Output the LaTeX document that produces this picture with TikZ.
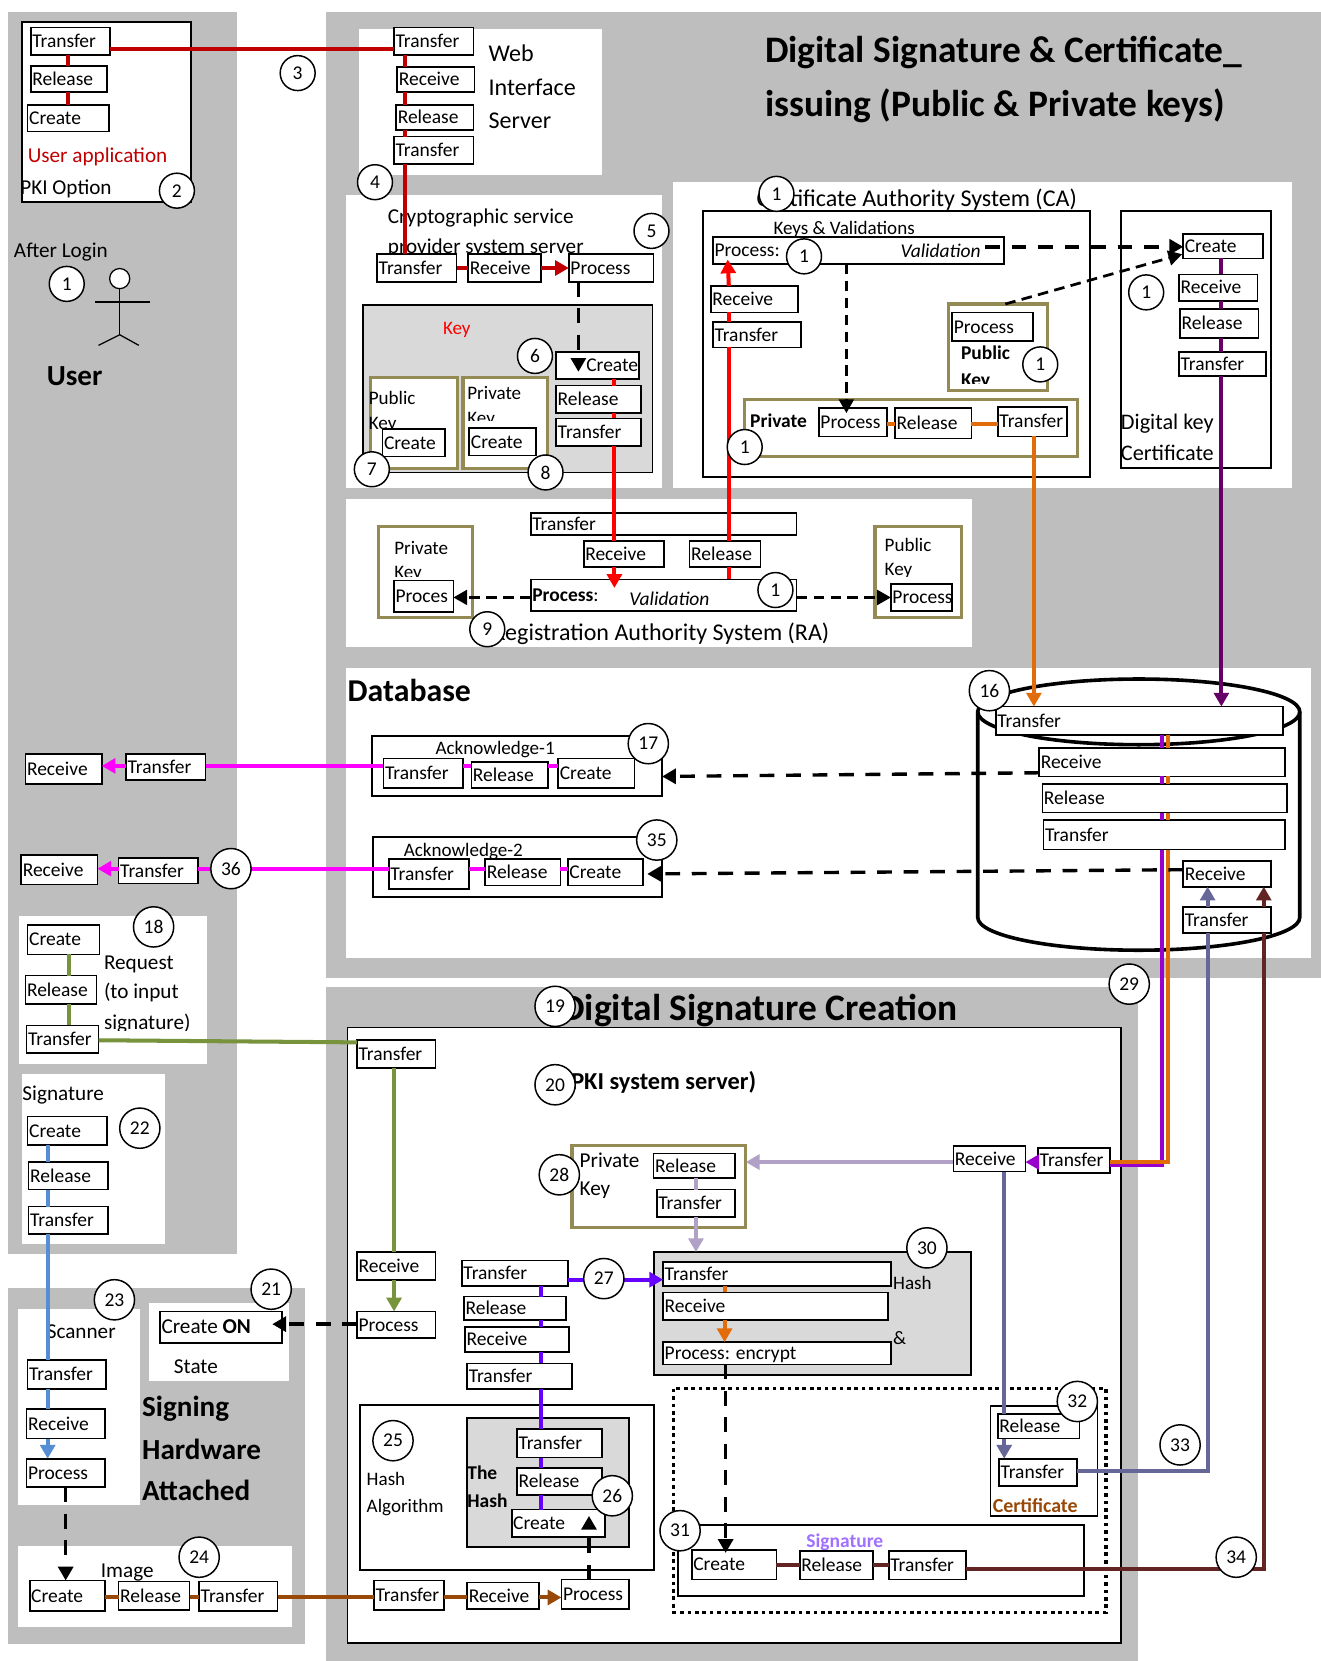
\documentclass[tikz,border=0pt]{standalone}
\usepackage{fontspec}
\setmainfont{Carlito}
\usetikzlibrary{arrows.meta}
\definecolor{panelgray}{HTML}{BEBEBE}
\definecolor{keygray}{HTML}{D9D9D9}
\definecolor{olive}{HTML}{948A54}
\definecolor{darkred}{HTML}{C00000}
\definecolor{orangeline}{HTML}{E36C0A}
\definecolor{plumline}{HTML}{660066}
\definecolor{violetline}{HTML}{9900CC}
\definecolor{lilacline}{HTML}{B2A1C7}
\definecolor{slateline}{HTML}{666699}
\definecolor{wineline}{HTML}{632523}
\definecolor{greenline}{HTML}{77933C}
\definecolor{blueline}{HTML}{558ED5}
\definecolor{brownline}{HTML}{984807}
\definecolor{indigoline}{HTML}{6600FF}
\definecolor{pinkline}{HTML}{FF00FF}
\definecolor{redline}{HTML}{FF0000}
\definecolor{sigpurple}{HTML}{A070FF}

\begin{document}
\begin{tikzpicture}[
    x=1pt, y=-1pt,
    procbox/.style={rectangle, draw, fill=white, line width=1.6pt, inner sep=0pt, outer sep=0pt, anchor=north west, font=\fontsize{18.4}{20}\selectfont},
    blackbox/.style={rectangle, draw, line width=1.8pt, inner sep=0pt, outer sep=0pt, anchor=north west},
    olivebox/.style={rectangle, draw=olive, fill=white, line width=3pt, inner sep=0pt, outer sep=0pt, anchor=north west},
    lab/.style={inner sep=0pt, anchor=west, font=\fontsize{18}{20}\selectfont},
    boldlab/.style={lab, font=\fontsize{18.4}{20}\selectfont\bfseries},
    lablg/.style={inner sep=0pt, anchor=west, font=\fontsize{20}{22}\selectfont},
    biglab/.style={inner sep=0pt, anchor=west, font=\fontsize{21}{24}\selectfont},
    hugelab/.style={inner sep=0pt, anchor=west, font=\fontsize{22.7}{26}\selectfont},
    headlab/.style={inner sep=0pt, anchor=west, font=\fontsize{27.5}{30}\selectfont\bfseries},
    titlelab/.style={inner sep=0pt, anchor=west, font=\fontsize{35.3}{40}\selectfont\bfseries},
    numnode/.style={circle, draw, fill=white, line width=1.4pt, inner sep=0pt, minimum size=33pt, font=\fontsize{18.4}{20}\selectfont},
    numwide/.style={numnode, minimum size=38pt},
    conn/.style={line width=3.8pt},
    tip/.style={-{Triangle[length=13pt,width=14pt]}},
    dashline/.style={line width=3.2pt, dash pattern=on 14pt off 11pt, black},
    dashthin/.style={line width=2.6pt, dash pattern=on 10pt off 6pt, black},
    dashA/.style={dashline, tip},
    redD/.style={conn, darkred},
    redDA/.style={redD, tip},
    redB/.style={conn, redline},
    orangeL/.style={conn, orangeline},
    orangeA/.style={orangeL, tip},
    plumL/.style={conn, plumline},
    plumA/.style={plumL, tip},
    violetL/.style={conn, violetline},
    violetA/.style={violetL, tip},
    lilacL/.style={conn, lilacline},
    lilacA/.style={lilacL, tip},
    slateL/.style={conn, slateline},
    slateA/.style={slateL, tip},
    wineL/.style={conn, wineline},
    wineA/.style={wineL, tip},
    greenL/.style={conn, greenline},
    greenA/.style={greenL, tip},
    blueL/.style={conn, blueline},
    blueA/.style={blueL, tip},
    brownL/.style={conn, brownline},
    brownA/.style={brownL, tip},
    indigoL/.style={conn, indigoline},
    indigoA/.style={indigoL, tip},
    magentaL/.style={conn, pinkline},
    magentaA/.style={magentaL, tip}
]
    \useasboundingbox (0,0) rectangle (1247,1568);

    % Gray areas
    \fill[panelgray] (8,11) rectangle (224,1184);
    \fill[panelgray] (308,11) rectangle (1247,923);
    \fill[panelgray] (308,932) rectangle (1074,1568);
    \fill[panelgray] (8,1216) rectangle (288,1552);

    % White areas
    \foreach \xa/\ya/\xb/\yb in {339/27/568/165, 327/184/625/461, 635/172/1220/461, 327/471/918/611, 327/631/1238/904, 18/865/195/1004, 21/1014/156/1174, 17/1236/132/1421, 141/1230/273/1304, 17/1459/276/1536} {
        \fill[white] (\xa,\ya) rectangle (\xb,\yb);
    }

    % Frames
    \foreach \nm/\x/\y/\wid/\hgt/\col in {
        boxUser/21/21/159/170/white, boxKey/343/288/273/158/keygray, boxCa/664/199/365/251/white,
        boxDigital/1058/199/142/243/white, boxAckA/351/695/274/56/white, boxAckB/352/790/273/57/white,
        boxServer/328/970/730/581/white, boxEnc/617/1182/300/116/keygray, boxAlgo/340/1326/277/156/white,
        boxHash/441/1339/153/121/keygray, boxCert/935/1327/101/104/white, boxSign/640/1440/383/67/white} {
        \node[blackbox, fill=\col, minimum width=\wid pt, minimum height=\hgt pt] (\nm) at (\x,\y) {};
    }
    \draw[line width=3.2pt, dash pattern=on 3.5pt off 3.5pt] (636,1311) rectangle (1044,1522);

    % Key frames
    \foreach \nm/\x/\y/\wid/\hgt in {
        olvPub/350/356/82/86, olvPrv/437/356/80/86, olvCaPub/895/287/94/82, olvCaPrv/703/377/314/54,
        olvRaPrv/357/497/89/86, olvRaPub/826/497/82/86, olvSign/540/1081/164/78} {
        \node[olivebox, minimum width=\wid pt, minimum height=\hgt pt] (\nm) at (\x,\y) {};
    }

    % Database
    \draw[line width=3.4pt] (1075,672) ellipse [x radius=152pt, y radius=31pt];
    \draw[line width=3.4pt] (923,672) -- (923,866) arc [start angle=180, end angle=360, x radius=152pt, y radius=31pt] -- (1227,672);

    % User
    \node[circle, draw, fill=white, line width=1.2pt, inner sep=0pt, minimum size=19pt] (head) at (113,263) {};
    \coordinate (hip) at (113,316);
    \coordinate (armL) at (90,285);
    \coordinate (armR) at (142,285);
    \coordinate (footL) at (93,326);
    \coordinate (footR) at (131,326);
    \draw[line width=1.2pt] (head) -- (hip);
    \draw[line width=1.2pt] (armL) -- (armR);
    \draw[line width=1.2pt] (footL) -- (hip) -- (footR);

    % Texts
    \foreach \nm/\x/\y/\lbl in {
        tPub/348/376/Public, tPrv/441/371/Private,
        tKeysVal/730/217/{Keys \& Validations}, tRaPrv/372/517/Private, tRaPub/835/514/Public,
        tAckA/411/708/Acknowledge-1, tAckB/381/804/Acknowledge-2, tHashA/843/1211/Hash, tAmp/843/1263/\&,
        tAlgA/346/1396/Hash, tAlgB/346/1423/Algorithm} {
        \node[lab] (\nm) at (\x,\y) {\lbl};
    }
    \foreach \nm/\x/\y/\lbl in {
        tLogin/13/238/After Login, tPki/19/178/PKI Option, tCrypto/366/206/Cryptographic service,
        tProv/366/234/provider system server, tReq/98/910/Request, tInp/98/937/(to input,
        tSign/21/1034/Signature, tScan/44/1257/Scanner, tState/164/1290/State, tImg/95/1484/Image} {
        \node[lablg] (\nm) at (\x,\y) {\lbl};
    }
    \foreach \nm/\x/\y/\lbl in {tDigA/1058/400/Digital key, tDigB/1058/428/Certificate} {
        \node[biglab] (\nm) at (\x,\y) {\lbl};
    }
    \node[lablg] (tPkiKey) at (547,1095) {Private};
    \foreach \nm/\y/\lbl in {tWeb/50/Web, tIface/82/Interface, tSrv/114/Server} {
        \node[hugelab] (\nm) at (461,\y) {\lbl};
    }
    \node[hugelab] (tCa) at (714,188) {Certificate Authority System (CA)};
    \node[hugelab, anchor=east] (tRa) at (783,598) {Registration Authority System (RA)};
    \node[hugelab, anchor=east, font=\fontsize{23}{26}\selectfont\bfseries] (tPkiSys) at (714,1022) {(PKI system server)};
    \node[lablg, text=darkred] (tApp) at (26,148) {User application};
    \node[lab, text=redline] (tKeyRed) at (418,311) {Key};
    \node[boldlab] (tCaPrv) at (708,397) {Private};
    \node[boldlab] (tCaPrvK) at (692,424) {Key};
    \node[boldlab] (tCaPub) at (907,333) {Public};
    \node[boldlab] (tThe) at (441,1390) {The};
    \node[boldlab] (tTheH) at (441,1417) {Hash};
    \node[boldlab, text=brownline, font=\fontsize{18.8}{20}\selectfont\bfseries] (tCert) at (937,1421) {Certificate};
    \node[boldlab, text=sigpurple] (tSigP) at (761,1456) {Signature};
    \node[headlab] (tUser) at (44,355) {User};
    \foreach \nm/\y/\lbl in {tHwA/1330/Signing, tHwB/1368/Hardware, tHwC/1407/Attached} {
        \node[headlab] (\nm) at (134,\y) {\lbl};
    }
    \node[headlab, font=\fontsize{30}{32}\selectfont\bfseries] (tDb) at (328,652) {Database};
    \node[titlelab] (tTitleA) at (722,50) {Digital Signature \& Certificate\_};
    \node[titlelab] (tTitleB) at (722,100) {issuing (Public \& Private keys)};
    \node[titlelab, anchor=east] (tDsc) at (904,954) {Digital Signature Creation};

    % Texts cut off at the bottom
    \foreach \nm/\x/\y/\yc/\stl/\lbl in {tPubK/348/401/405/lab/Key, tPrvK/441/396/397/lab/Key, tRaPrvK/372/542/544/lab/Key,
        tRaPubK/835/539/544/lab/Key, tSig/98/966/973/lablg/signature), tCaPubK/907/360/362/boldlab/Key, tPkiKeyB/547/1124/1130/lablg/Key} {
        \begin{scope}
            \clip (\x-5,\yc-30) rectangle (\x+90,\yc);
            \node[\stl] (\nm) at (\x,\y) {\lbl};
        \end{scope}
    }

    % Boxes
    \foreach \nm/\x/\y/\wid/\hgt/\lbl in {
        uaT/29/26/75/26/Transfer, uaR/29/62/72/25/Release, uaC/26/99/77/25/Create,
        webT/372/26/75/26/Transfer, webR/375/63/73/24/Receive, webL/374/99/73/24/Release, webX/372/129/75/26/Transfer,
        cspT/356/240/75/26/Transfer, cspR/442/240/69/26/Receive, cspP/537/240/80/26/Process,
        keyC/525/332/78/26/\hspace{27pt}Create, keyR/525/364/80/26/Release, keyT/525/395/80/26/Transfer,
        pubC/361/405/59/26/Create, prvC/443/404/63/26/Create,
        caP/673/224/275/25/Process:, caR/671/270/82/25/Receive, caT/673/304/83/24/Transfer,
        dkC/1117/221/75/23/Create, dkR/1113/259/74/25/Receive, dkL/1114/292/74/27/Release, dkT/1113/332/82/23/Transfer,
        cpuP/899/295/76/27/Process, cprP/773/385/64/27/Process, cprL/845/385/72/29/Release, cprT/942/384/65/28/Transfer,
        raT/501/484/251/21/Transfer, raR/551/511/76/24/Receive, raL/651/511/67/24/Release, raP/501/547/251/30/{\textbf{Process}:},
        rprP/372/548/56/30/Proces, rpuP/841/551/58/26/Process,
        dbA/940/667/271/27/Transfer, dbB/981/706/232/27/Receive, dbC/984/740/231/27/Release, dbD/985/774/228/28/Transfer,
        dbE/1117/813/83/24/Receive, dbF/1117/856/83/25/Transfer,
        ackAt/362/716/75/28/Transfer, ackAr/445/719/72/25/Release, ackAc/527/716/72/28/Create,
        rxA/24/712/72/28/Receive, txA/119/712/75/24/Transfer,
        ackBt/367/811/76/28/Transfer, ackBr/458/811/71/25/Release, ackBc/536/811/71/25/Create,
        rxB/20/807/72/28/Receive, txB/112/810/75/24/Transfer,
        reqC/26/873/68/28/Create, reqR/24/921/67/27/Release, reqT/25/968/68/26/Transfer,
        signC/26/1054/75/27/Create, signR/27/1097/75/26/Release, signT/27/1139/75/26/Transfer,
        scanT/26/1284/74/27/Transfer, scanR/25/1330/74/28/Receive, scanP/25/1377/74/27/Process,
        onC/151/1238/115/30/{\fontsize{20}{22}\selectfont Create \textbf{ON}},
        imgC/28/1492/71/29/Create, imgR/112/1493/67/27/Release, imgT/188/1493/74/28/Transfer,
        svT/337/982/74/26/Transfer, svR/337/1182/74/26/Receive, svP/337/1238/74/25/Process,
        hsT/436/1190/100/24/Transfer, hsR/438/1224/96/22/Release, hsC/439/1253/98/23/Receive, hsX/441/1287/99/24/Transfer,
        thT/488/1349/80/27/Transfer, thR/488/1386/80/25/Release, thC/483/1425/88/26/Create,
        shT/353/1492/66/28/Transfer, shR/441/1494/68/25/Receive, shP/530/1491/64/28/Process,
        pkR/617/1089/77/23/Release, pkT/620/1123/74/26/Transfer, dgR/900/1082/68/24/Receive, dgT/980/1084/68/23/Transfer,
        enT/626/1191/215/23/Transfer, enR/626/1220/212/26/Receive, enP/626/1267/215/21/Process: encrypt,
        ceR/942/1335/77/23/Release, ceT/943/1377/74/26/Transfer,
        sgC/653/1463/80/28/Create, sgR/755/1464/69/27/Release, sgT/839/1464/73/27/Transfer} {
        \node[procbox, minimum width=\wid pt, minimum height=\hgt pt] (\nm) at (\x,\y) {\makebox[\wid pt][l]{\hspace{1.5pt}\lbl\rule[-3pt]{0pt}{18pt}}};
    }
    \node[boldlab, font=\fontsize{18.4}{20}\selectfont\itshape] (valCa) at (850,237) {Validation};
    \node[boldlab, font=\fontsize{18.4}{20}\selectfont\itshape] (valRa) at (594,565) {Validation};

    % Columns and rows of the connectors
    \foreach \nm/\x in {xUa/64, xWeb/382, xKey/580, xRaL/688, xCsp/546, xCaV/799, xPlum/1153, xOrg/976, xVio/1097, xOrb/1103,
        xSlate/1140, xWine/1193, xReq/65, xSrv/372, xSign/45, xScan/62, xPk/657, xDg/948, xHs/511, xEnc/684, xEncD/685, xEnd/556} {
        \coordinate (\nm) at (\x,0);
    }
    \foreach \nm/\y in {yUa/46, yCsp/253, yCpr/400, yAckA/723, yAckB/820, yVio/1100, yOrg/1097, yCe/1389, yWine/1481, yImg/1508,
        yHs/1208, ySg/1477, yDk/233, yRa/564, yOn/1250, yGrA/982, yGrB/984} {
        \coordinate (\nm) at (0,\y);
    }
    \coordinate (tipKey) at (546,351);
    \coordinate (tipRa) at (580,555);
    \coordinate (tipCa) at (687,245);
    \coordinate (tipCv) at (799,390);
    \coordinate (tipDk) at (1116,240);
    \coordinate (tipEnd) at (556,1431);
    \coordinate (tipEnc) at (685,1466);
    \coordinate (tipOn) at (257,1250);
    \coordinate (tipAck) at (611,825);
    \coordinate (startCa) at (930,233);

    % Vertical connectors, going down
    \foreach \a/\b/\col/\stl in {
        uaT/uaR/xUa/redD, uaR/uaC/xUa/redD, webT/webR/xWeb/redD, webR/webL/xWeb/redD, webL/webX/xWeb/redD, webX/cspT/xWeb/redD,
        keyC/keyR/xKey/redB, keyR/keyT/xKey/redB, keyT/raR/xKey/redB,
        dkC/dkR/xPlum/plumL, dkR/dkL/xPlum/plumL, dkL/dkT/xPlum/plumL, dkT/dbA/xPlum/plumA,
        cprT/dbA/xOrg/orangeA,
        dbA/dbB/xVio/violetL, dbB/dbC/xVio/violetL, dbC/dbD/xVio/violetL,
        dbA/dbB/xOrb/orangeL, dbB/dbC/xOrb/orangeL, dbC/dbD/xOrb/orangeL,
        reqC/reqR/xReq/greenL, reqR/reqT/xReq/greenL, svT/svR/xSrv/greenL, svR/svP/xSrv/greenA,
        signC/signR/xSign/blueL, signR/signT/xSign/blueL, signT/scanT/xSign/blueL, scanT/scanR/xSign/blueL, scanR/scanP/xSign/blueA,
        scanP/imgC/xScan/dashA,
        pkR/pkT/xPk/lilacL, pkT/boxEnc/xPk/lilacA,
        dgR/ceR/xDg/slateL, ceR/ceT/xDg/slateA,
        hsT/hsR/xHs/indigoL, hsR/hsC/xHs/indigoL, hsC/hsX/xHs/indigoL, hsX/thT/xHs/indigoL, thT/thR/xHs/indigoL, thR/thC/xHs/indigoL,
        enT/enR/xEnc/orangeL, enR/enP/xEnc/orangeA} {
        \draw[\stl] (\a.south -| \col) -- (\b.north -| \col);
    }

    % Vertical connectors, going up
    \foreach \a/\b/\col/\stl in {
        raP/raL/xRaL/redB, raL/caT/xRaL/redB, caT/caR/xRaL/redB,
        dbF/dbE/xSlate/slateA, dbF/dbE/xWine/wineA} {
        \draw[\stl] (\a.north -| \col) -- (\b.south -| \col);
    }

    % Horizontal connectors, going right
    \foreach \a/\b/\row/\stl in {
        uaT/webT/yUa/redD, cspT/cspR/yCsp/redD, cspR/cspP/yCsp/redDA,
        cprP/cprL/yCpr/orangeL, cprL/cprT/yCpr/orangeL,
        hsT/enT/yHs/indigoA, imgC/imgR/yImg/brownL, imgR/imgT/yImg/brownL, imgT/shT/yImg/brownL, shT/shR/yImg/brownL,
        shR/shP/yImg/brownA, sgC/sgR/ySg/wineL, sgR/sgT/ySg/wineL} {
        \draw[\stl] (\a.east |- \row) -- (\b.west |- \row);
    }

    % Horizontal connectors, going left
    \foreach \a/\b/\row/\stl in {
        ackAc/ackAr/yAckA/magentaL, ackAr/ackAt/yAckA/magentaL, ackAt/txA/yAckA/magentaL, txA/rxA/yAckA/magentaA,
        ackBc/ackBr/yAckB/magentaL, ackBr/ackBt/yAckB/magentaL, ackBt/txB/yAckB/magentaL, txB/rxB/yAckB/magentaA,
        dgT/dgR/yOrg/violetA, dgR/olvSign/yOrg/lilacA} {
        \draw[\stl] (\a.west |- \row) -- (\b.east |- \row);
    }

    % Connectors with a bend or an open end
    \draw[redB, tip] (raR.south -| xKey) -- (tipRa);
    \draw[redB, tip] (caR.north -| xRaL) -- (tipCa);
    \draw[greenL] (reqT.east |- yGrA) -- (svT.north west |- yGrB);
    \draw[violetL] (dbD.south -| xVio) -- (xVio |- yVio) -- (dgT.east |- yVio);
    \draw[orangeL] (dbD.south -| xOrb) -- (xOrb |- yOrg) -- (dgT.east |- yOrg);
    \draw[slateL] (ceT.east |- yCe) -- (xSlate |- yCe) -- (dbF.south -| xSlate);
    \draw[wineL] (sgT.east |- yWine) -- (xWine |- yWine) -- (dbF.south -| xWine);

    % Dashed connectors
    \draw[dashA] (cspP.south -| xCsp) -- (tipKey);
    \draw[dashA] (startCa) -- (dkC.west |- yDk);
    \draw[dashthin, tip] ([xshift=7pt]olvCaPub.north) -- (tipDk);
    \draw[dashthin, tip] (caP.south -| xCaV) -- (tipCv);
    \draw[dashthin, tip] (raP.west |- yRa) -- (rprP.east |- yRa);
    \draw[dashthin, tip] (raP.east |- yRa) -- (rpuP.west |- yRa);
    \draw[dashA] ([yshift=-10pt]dbB.west) -- ([yshift=-10pt]boxAckA.east);
    \draw[dashA] ([yshift=4pt]dbE.west) -- (tipAck);
    \draw[dashA] (svP.west |- yOn) -- (tipOn);
    \draw[dashA] (shP.north -| xEnd) -- (tipEnd);
    \draw[dashA] (enP.south -| xEncD) -- (tipEnc);

    % Numbers
    \foreach \nm/\x/\y/\lbl in {
        numA/63/268/1, numB/167/180/2, numC/281/69/3, numD/354/172/4, numE/615/218/5, numF/505/336/6, numG/351/443/7, numH/515/446/8,
        numI/733/183/1, numJ/759/242/1, numK/1082/276/1, numL/982/344/1, numM/703/422/1, numN/732/557/1, numO/460/594/9} {
        \node[numnode] (\nm) at (\x,\y) {\lbl};
    }
    \foreach \nm/\x/\y/\lbl in {
        numP/934/652/16, numQ/612/702/17, numR/620/793/35, numS/218/820/36, numT/145/875/18, numU/524/950/19, numV/524/1024/20,
        numW/1066/929/29, numX/528/1109/28, numY/875/1178/30, numZ/570/1207/27, numAa/256/1217/21, numAb/108/1227/23,
        numAc/132/1065/22, numAd/188/1470/24, numAe/371/1360/25, numAf/578/1412/26, numAg/642/1445/31, numAh/1017/1323/32,
        numAi/1114/1364/33, numAj/1167/1470/34} {
        \node[numwide] (\nm) at (\x,\y) {\lbl};
    }
\end{tikzpicture}
\end{document}
